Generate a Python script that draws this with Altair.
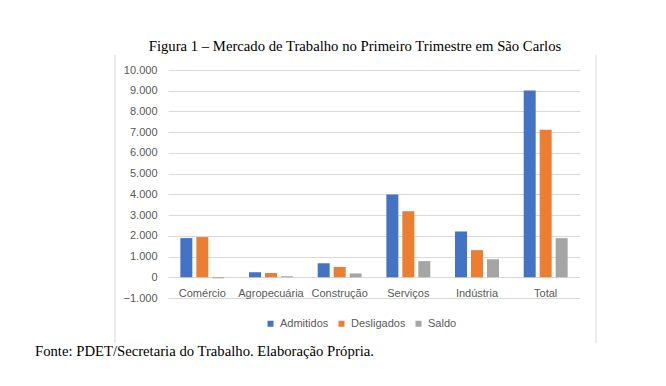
import altair as alt
import pandas as pd

# ---- data ----
categories = ["Comércio", "Agropecuária", "Construção", "Serviços", "Indústria", "Total"]
series = ["Admitidos", "Desligados", "Saldo"]
admitidos = [1890, 245, 675, 3995, 2210, 9010]
desligados = [1940, 205, 495, 3190, 1310, 7120]
saldo = [-50, 45, 185, 780, 870, 1890]
y_ticks = [-1000, 0, 1000, 2000, 3000, 4000, 5000, 6000, 7000, 8000, 9000, 10000]
colors = ["#4472C4", "#ED7D31", "#A5A5A5"]
title_text = "Figura 1 – Mercado de Trabalho no Primeiro Trimestre em São Carlos"
source_text = "Fonte: PDET/Secretaria do Trabalho. Elaboração Própria."

rows = []
for i, c in enumerate(categories):
    for s, vals in zip(series, [admitidos, desligados, saldo]):
        rows.append({"categoria": c, "serie": s, "valor": vals[i]})
df = pd.DataFrame(rows)

SANS = "Liberation Sans"
SERIF = "Liberation Serif"
GRAY = "#595959"
GRID = "#D9D9D9"

bars = alt.Chart(df).mark_bar().encode(
    x=alt.X("categoria:N", sort=categories,
            scale=alt.Scale(paddingInner=0.36, paddingOuter=0.18),
            axis=alt.Axis(title=None, orient="bottom", offset=-20, ticks=False, domain=False,
                          labelAngle=0, labelPadding=9, labelFont=SANS, labelFontSize=11,
                          labelColor=GRAY, grid=False)),
    xOffset=alt.XOffset("serie:N", sort=series,
                        scale=alt.Scale(paddingInner=0.25, paddingOuter=0)),
    y=alt.Y("valor:Q", scale=alt.Scale(domain=[-1000, 10000], nice=False),
            axis=alt.Axis(title=None, values=y_ticks, ticks=False, domain=False,
                          labelPadding=11, labelFont=SANS, labelFontSize=11, labelColor=GRAY,
                          gridColor=GRID, gridWidth=1,
                          labelExpr="replace(format(datum.value, ','), ',', '.')")),
    color=alt.Color("serie:N", sort=series,
                    scale=alt.Scale(domain=series, range=colors),
                    legend=alt.Legend(title=None, orient="none", direction="horizontal",
                                      legendX=97, legendY=248, symbolType="square",
                                      symbolSize=36, symbolStrokeWidth=0,
                                      labelFont=SANS, labelFontSize=11, labelColor=GRAY,
                                      labelOffset=4, columnPadding=7)),
)

one = pd.DataFrame({"a": [0]})

title = alt.Chart(one).mark_text(font=SERIF, fontSize=14.7, color="black", align="center",
                                 baseline="middle").encode(
    x=alt.value(187), y=alt.value(-23), text=alt.value(title_text))

source = alt.Chart(one).mark_text(font=SERIF, fontSize=14.7, color="black", align="left",
                                  baseline="middle").encode(
    x=alt.value(-133), y=alt.value(282), text=alt.value(source_text))

left_border = alt.Chart(one).mark_rule(color=GRID, strokeWidth=1).encode(
    x=alt.value(-53), y=alt.value(-15), y2=alt.value(273))
right_border = alt.Chart(one).mark_rule(color=GRID, strokeWidth=1).encode(
    x=alt.value(428), y=alt.value(-15), y2=alt.value(273))

chart = alt.layer(bars, title, source, left_border, right_border).properties(
    width=412, height=228,
    autosize=alt.AutoSizeParams(type="none"),
    padding={"left": 160, "top": 62, "right": 78, "bottom": 80},
    background="white",
).configure_view(stroke=None)

chart.save("out.html", embed_options={"renderer": "svg", "actions": False})
